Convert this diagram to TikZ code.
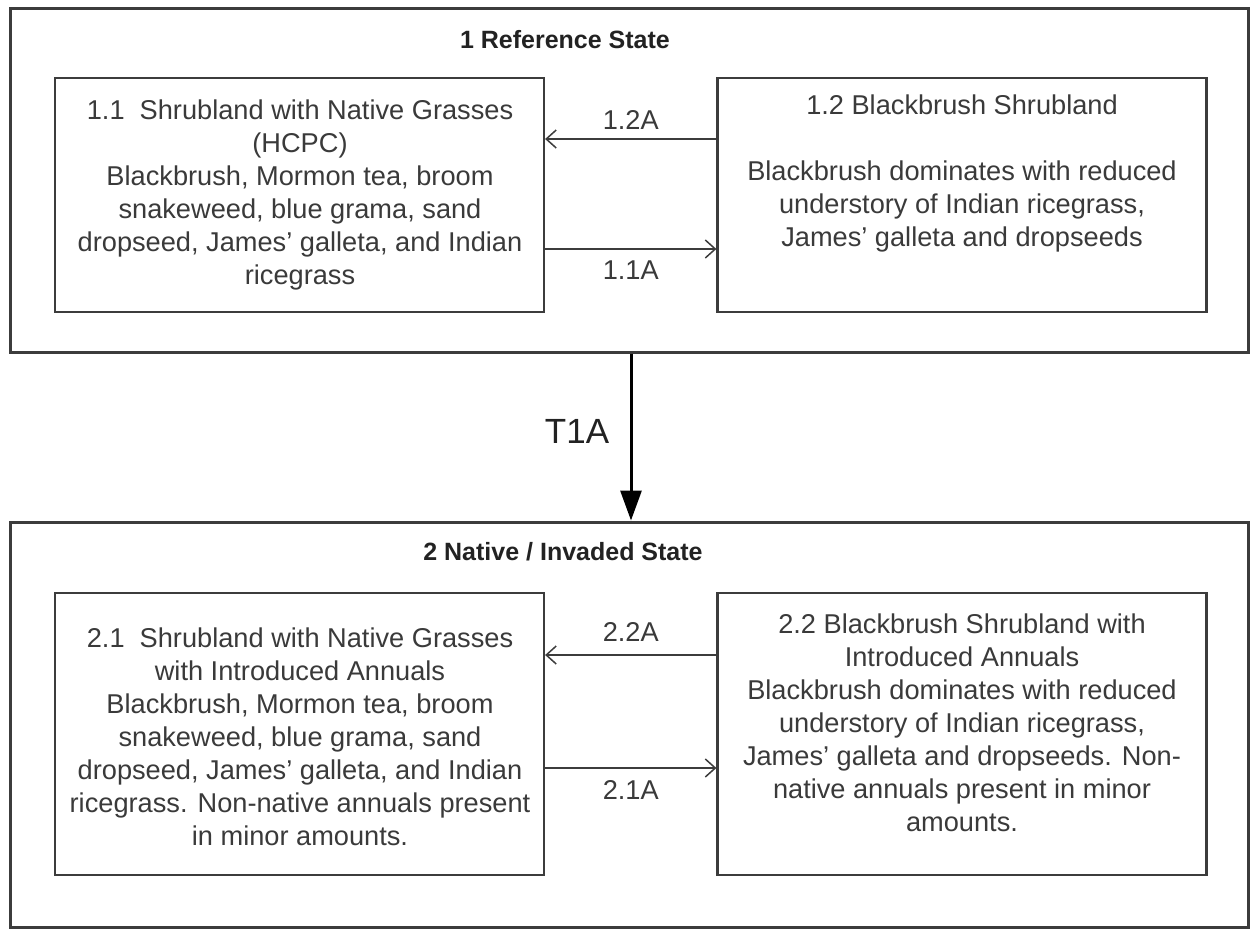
\documentclass[tikz,border=0pt]{standalone}
\usepackage{fontspec}
\setmainfont{Liberation Sans}
\usetikzlibrary{arrows.meta}
\definecolor{txtc}{HTML}{3A3A3A}
\definecolor{ttlc}{HTML}{222222}
\definecolor{linec}{HTML}{3C3C3C}
\begin{document}
\begin{tikzpicture}[x=1pt,y=-1pt,
  statebox/.style={draw=linec,line width=3pt,rectangle,inner sep=0pt,minimum width=1238pt},
  phasebox/.style={draw=linec,line width=2.2pt,rectangle,inner sep=0pt,minimum width=489pt},
  body/.style={align=center,text=txtc,inner sep=0pt,font=\fontsize{27.2}{33}\selectfont},
  ttl/.style={text=ttlc,inner sep=0pt,font=\fontsize{25}{30}\selectfont\bfseries},
  lbl/.style={text=txtc,inner sep=0pt,font=\fontsize{27.2}{33}\selectfont},
  pathway/.style={draw=linec,line width=1.5pt,-{Straight Barb[length=10pt,width=18pt,line width=1.5pt]}},
  transition/.style={draw=black,line width=3pt,-{Triangle[length=30pt,width=21pt]}}]
\useasboundingbox (0,0) rectangle (1251,929);
\fill[white] (0,0) rectangle (1251,929);

% state boxes
\node[statebox,minimum height=344pt] (s1) at (629,180) {};
\node[statebox,minimum height=405pt] (s2) at (629,724.5) {};
\node[ttl] (s1t) at (565,40) {1 Reference State};
\node[ttl] (s2t) at (563,552) {2 Native / Invaded State};

% phase boxes
\node[phasebox,minimum height=234pt] (b11) at (299.5,195) {};
\node[phasebox,minimum height=234pt] (b12) at (962,195) {};
\node[phasebox,minimum height=282pt] (b21) at (299.5,734) {};
\node[phasebox,minimum height=282pt] (b22) at (962,734) {};

% texts
\node[body] (t11) at (300,195) {1.1\ \ Shrubland with Native Grasses\\(HCPC)\\Blackbrush, Mormon tea, broom\\snakeweed, blue grama, sand\\dropseed, James’ galleta, and Indian\\ricegrass};
\node[body] (t12) at (962,173) {1.2 Blackbrush Shrubland\\[33pt]Blackbrush dominates with reduced\\understory of Indian ricegrass,\\James’ galleta and dropseeds};
\node[body] (t21) at (300,737) {2.1\ \ Shrubland with Native Grasses\\with Introduced Annuals\\Blackbrush, Mormon tea, broom\\snakeweed, blue grama, sand\\dropseed, James’ galleta, and Indian\\ricegrass. Non-native annuals present\\in minor amounts.};
\node[body] (t22) at (962,723) {2.2 Blackbrush Shrubland with\\Introduced Annuals\\Blackbrush dominates with reduced\\understory of Indian ricegrass,\\James’ galleta and dropseeds. Non-\\native annuals present in minor\\amounts.};

% pathways
\draw[pathway] ([yshift=56pt]b12.west) -- ([yshift=56pt]b11.east)
  node[lbl,midway,yshift=19pt] (l12a) {1.2A};
\draw[pathway] ([yshift=-54pt]b11.west -| b11.east) -- ([yshift=-54pt]b12.west)
  node[lbl,midway,yshift=-21pt] (l11a) {1.1A};
\draw[pathway] ([yshift=79pt]b22.west) -- ([yshift=79pt]b21.east)
  node[lbl,midway,yshift=23pt] (l22a) {2.2A};
\draw[pathway] ([yshift=-34pt]b21.west -| b21.east) -- ([yshift=-34pt]b22.west)
  node[lbl,midway,yshift=-22pt] (l21a) {2.1A};

% transition
\coordinate (tx) at (631,0);
\draw[transition] (s1.south -| tx) -- (s2.north -| tx);
\node[text=ttlc,inner sep=0pt,font=\fontsize{35}{40}\selectfont] (t1a) at (577,431) {T1A};
\end{tikzpicture}
\end{document}
